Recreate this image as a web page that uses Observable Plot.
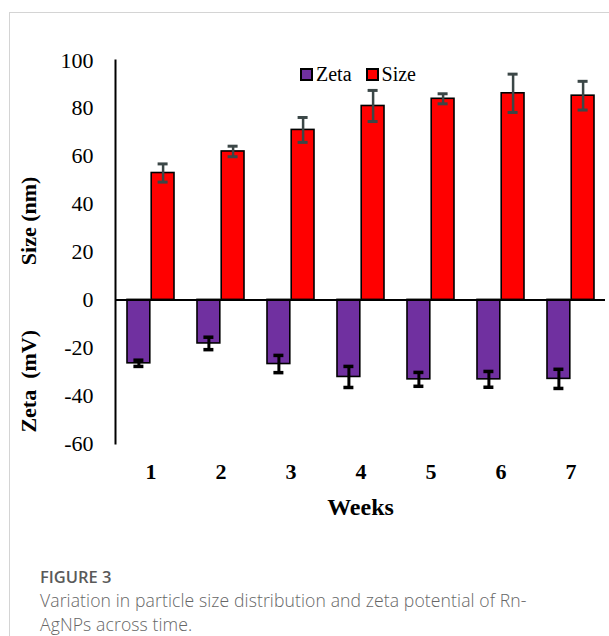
<!DOCTYPE html>
<html>
<head>
<meta charset="utf-8">
<script src="https://cdn.jsdelivr.net/npm/d3@7"></script>
<script src="https://cdn.jsdelivr.net/npm/@observablehq/plot@0.6"></script>
<style>
  html, body { margin: 0; padding: 0; background: #fff; }
  #wrap { position: relative; width: 609px; height: 636px; overflow: hidden; }
  #border { position: absolute; left: 9px; top: 12px; right: -5px; bottom: -5px;
            border-left: 1px solid #d4d4d4; border-top: 1px solid #d4d4d4; }
  #chart { position: absolute; left: 0; top: 0; }
  #chart svg text { font-family: "Liberation Serif", "Times New Roman", serif !important; }
  #legend { position: absolute; left: 301px; top: 58px; }
  #legend, #legend div, #legend span { font-family: "Liberation Serif", "Times New Roman", serif !important; font-size: 20px !important; color: #000 !important; }
  #legend span { margin-right: 15px !important; }
  #legend svg { margin-right: 4px !important; }
  #legend svg rect { stroke: #000; stroke-width: 2; }
  #caption { position: absolute; left: 40px; top: 565px; font-family: "Open Sans", sans-serif; color: #5f5f5f; }
  #caption .fig { font-size: 16.5px; font-weight: 600; color: #5a5a5a; line-height: 23px; }
  #caption .txt { font-size: 17.6px; font-weight: 300; line-height: 24px; color: #666; letter-spacing: 0.1px; }
</style>
</head>
<body>
<div id="wrap">
  <div id="border"></div>
  <div id="chart"></div>
  <div id="legend"></div>
  <div id="caption">
    <div class="fig">FIGURE 3</div>
    <div class="txt">Variation in particle size distribution and zeta potential of Rn-<br>AgNPs across time.</div>
  </div>
</div>
<script>
const weeks = ["1", "2", "3", "4", "5", "6", "7"];
const series = ["Zeta", "Size"];
const seriesColors = ["#7030a0", "#ff0000"];
const sizeMean = [53, 62, 71, 81, 84, 86.3, 85.3];
const sizeErr = [3.8, 2.2, 5.2, 6.5, 2.1, 8, 6];
const zetaMean = [-26.5, -18.2, -26.8, -32.2, -33.2, -33.2, -33];
const zetaErr = [1.3, 2.6, 3.6, 4.4, 2.9, 3.3, 4];
const yTicks = [-60, -40, -20, 0, 20, 40, 60, 80, 100];

const sizeRows = weeks.map((w, i) => ({week: w, series: "Size", v: sizeMean[i], lo: sizeMean[i] - sizeErr[i], hi: sizeMean[i] + sizeErr[i]}));
const zetaRows = weeks.map((w, i) => ({week: w, series: "Zeta", v: zetaMean[i], lo: zetaMean[i] - zetaErr[i], hi: zetaMean[i] + zetaErr[i]}));

const font = "Liberation Serif, Times New Roman, serif";
// band 47px wide: zeta on left half, size on right half
const half = 24.2, capL = 6.4, capR = 30.6;

const chart = Plot.plot({
  width: 609,
  height: 530,
  marginLeft: 115,
  marginRight: 4,
  marginTop: 60,
  marginBottom: 87,
  style: {fontFamily: font, color: "#000", background: "transparent"},
  x: {domain: weeks, paddingInner: 0.33, paddingOuter: 0.165, axis: null},
  y: {domain: [-60, 100], axis: null},
  color: {domain: series, range: seriesColors},
  marks: [
    Plot.barY(zetaRows, {x: "week", y: "v", fill: "series", stroke: "#000", strokeWidth: 1.6, insetRight: half}),
    Plot.barY(sizeRows, {x: "week", y: "v", fill: "series", stroke: "#000", strokeWidth: 1.6, insetLeft: half}),
    Plot.ruleX(sizeRows, {x: "week", y1: "lo", y2: "hi", dx: 12.1, stroke: "#3b4747", strokeWidth: 2.5}),
    Plot.tickY(sizeRows, {x: "week", y: "lo", insetLeft: capR, insetRight: capL, stroke: "#3b4747", strokeWidth: 3}),
    Plot.tickY(sizeRows, {x: "week", y: "hi", insetLeft: capR, insetRight: capL, stroke: "#3b4747", strokeWidth: 3}),
    Plot.ruleX(zetaRows, {x: "week", y1: "lo", y2: "hi", dx: -12.1, stroke: "#000", strokeWidth: 3}),
    Plot.tickY(zetaRows, {x: "week", y: "lo", insetLeft: capL, insetRight: capR, stroke: "#000", strokeWidth: 3.5}),
    Plot.tickY(zetaRows, {x: "week", y: "hi", insetLeft: capL, insetRight: capR, stroke: "#000", strokeWidth: 3.5}),
    Plot.ruleY([0], {stroke: "#000", strokeWidth: 2}),
    Plot.frame({anchor: "left", stroke: "#000", strokeWidth: 2}),
    Plot.axisY({ticks: yTicks, tickSize: 0, tickPadding: 22, fontSize: 22, tickFormat: d => String(d), label: null, fontFamily: font}),
    Plot.axisX({tickSize: 0, tickPadding: 20, fontSize: 22, fontWeight: "bold", label: null, fontFamily: font}),
    Plot.text(["Weeks"], {frameAnchor: "bottom", dy: 64, fontSize: 24, fontWeight: "bold", fontFamily: font, lineAnchor: "middle"}),
    Plot.text(["Size (nm)"], {frameAnchor: "left", y: [33], dx: -87, rotate: -90, fontSize: 22, fontWeight: "bold", fontFamily: font, textAnchor: "middle", lineAnchor: "middle"}),
    Plot.text(["Zeta\u00a0\u00a0(mV)"], {frameAnchor: "left", y: [-34], dx: -87, rotate: -90, fontSize: 22, fontWeight: "bold", fontFamily: font, textAnchor: "middle", lineAnchor: "middle"})
  ]
});
document.getElementById("chart").appendChild(chart);

const legend = Plot.legend({
  color: {type: "ordinal", domain: series, range: seriesColors},
  legend: "swatches",
  swatchSize: 11
});
document.getElementById("legend").appendChild(legend);
</script>
</body>
</html>
